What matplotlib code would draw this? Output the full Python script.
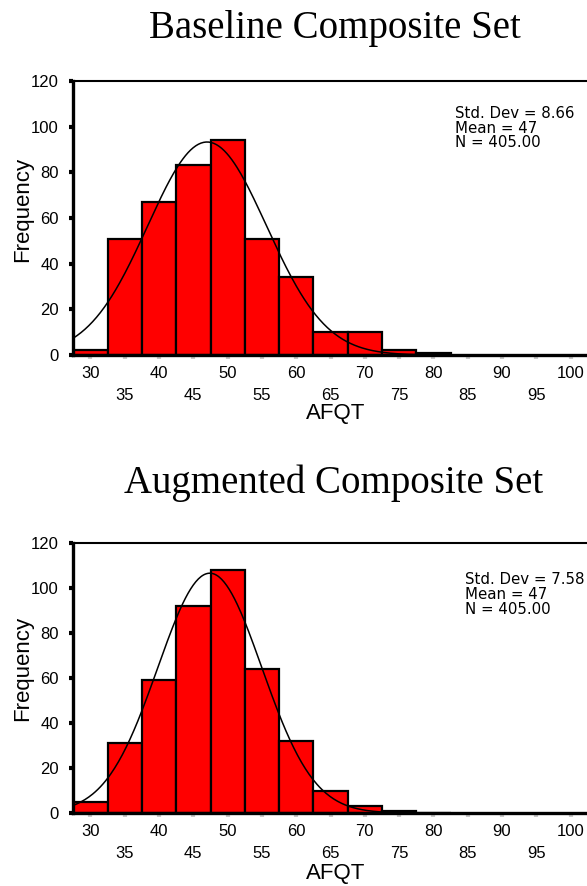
import numpy as np
import matplotlib
matplotlib.use("Agg")
import matplotlib.pyplot as plt

plt.rcParams.update({
    "font.family": "Liberation Sans",
    "font.size": 12,
})

# AFQT histograms, 5-point bins centred on these values
bin_centers = [30, 35, 40, 45, 50, 55, 60, 65, 70, 75, 80]
baseline_counts = [2, 51, 67, 83, 94, 51, 34, 10, 10, 2, 1]
augmented_counts = [5, 31, 59, 92, 108, 64, 32, 10, 3, 1, 0]

titles = ["Baseline Composite Set", "Augmented Composite Set"]
std_devs = [8.66, 7.58]
means_shown = ["47", "47"]
means_fit = [47.0, 47.4]
n_cases = 405
bin_width = 5

W, H = 587, 886
fig = plt.figure(figsize=(W / 100, H / 100), dpi=100)


def draw_panel(ax, counts, sd, mean_shown, mean_fit, stats_xy, step):
    ax.bar(bin_centers, counts, width=bin_width, color="#ff0000",
           edgecolor="black", linewidth=1.6, zorder=1)

    # fitted normal curve, scaled to counts
    xs = np.linspace(27.5, 102.5, 400)
    ys = n_cases * bin_width / (sd * np.sqrt(2 * np.pi)) * np.exp(-0.5 * ((xs - mean_fit) / sd) ** 2)
    ax.plot(xs, ys, color="black", lw=1.1, zorder=2)

    ax.set_xlim(27.5, 102.5)
    ax.set_ylim(0, 120)
    ax.set_yticks(range(0, 121, 20))
    ax.set_xticks(range(30, 101, 10))
    ax.set_xticks(range(35, 96, 10), minor=True)
    ax.set_xticklabels([str(v) for v in range(30, 101, 10)])
    ax.set_xticklabels([str(v) for v in range(35, 96, 10)], minor=True)

    ax.tick_params(axis="x", which="both", length=3, width=3, color="#c8c8c8", labelsize=12)
    ax.tick_params(axis="x", which="major", pad=5)
    ax.tick_params(axis="x", which="minor", pad=21)
    ax.tick_params(axis="y", length=3, width=3, color="black", pad=7.5, labelsize=12)

    ax.spines["right"].set_visible(False)
    ax.spines["left"].set_linewidth(2.4)
    ax.spines["bottom"].set_linewidth(2.4)
    ax.spines["top"].set_linewidth(1.5)

    ax.set_ylabel("Frequency", fontsize=16)
    ax.set_xlabel("AFQT", fontsize=16)

    x0, y0 = stats_xy
    lines = ["Std. Dev = %.2f" % sd, "Mean = " + mean_shown, "N = %.2f" % n_cases]
    for i, s in enumerate(lines):
        ax.text(x0, y0 - i * step, s, transform=ax.transAxes, fontsize=10.8,
                family="DejaVu Sans", va="baseline", ha="left")


ax_w = 514.5
ax1 = fig.add_axes([73.3 / W, 1 - 355 / H, ax_w / W, 274 / H])
ax2 = fig.add_axes([73.3 / W, 1 - 813 / H, ax_w / W, 270 / H])

draw_panel(ax1, baseline_counts, std_devs[0], means_shown[0], means_fit[0],
           ((455 - 73.3) / ax_w, 0.864), 0.0529)
draw_panel(ax2, augmented_counts, std_devs[1], means_shown[1], means_fit[1],
           ((465 - 73.3) / ax_w, 0.848), 0.0556)

ax1.yaxis.set_label_coords((33 - 73.3) / ax_w, 0.533)
ax2.yaxis.set_label_coords((33 - 73.3) / ax_w, 0.535)
ax1.xaxis.set_label_coords((336 - 73.3) / ax_w, -0.175)
ax2.xaxis.set_label_coords((336 - 73.3) / ax_w, -0.185)

fig.text(335 / W, 1 - 37.7 / H, titles[0], family="Liberation Serif",
         fontsize=28, ha="center", va="baseline")
fig.text(334 / W, 1 - 492.7 / H, titles[1], family="Liberation Serif",
         fontsize=28, ha="center", va="baseline")

fig.savefig("out.png", dpi=100)
